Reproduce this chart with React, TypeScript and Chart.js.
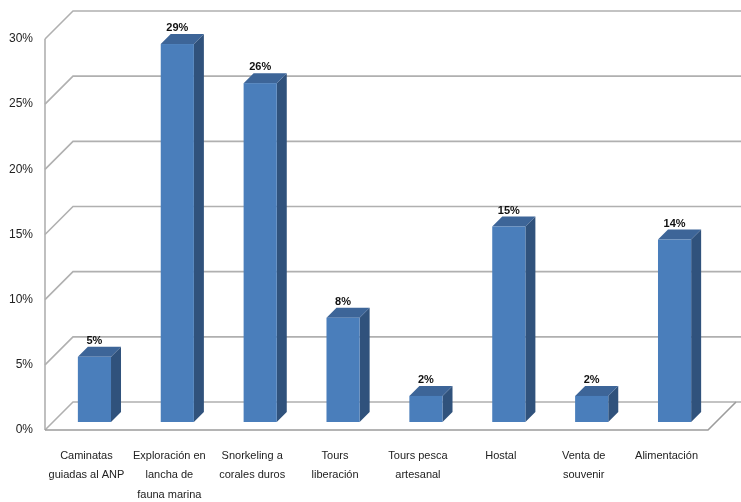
import React, { useEffect, useRef } from "react";
import { Chart, registerables } from "chart.js";

Chart.register(...registerables);

const categories: string[][] = [
  ["Caminatas", "guiadas al ANP"],
  ["Exploración en", "lancha de", "fauna marina"],
  ["Snorkeling a", "corales duros"],
  ["Tours", "liberación"],
  ["Tours pesca", "artesanal"],
  ["Hostal"],
  ["Venta de", "souvenir"],
  ["Alimentación"],
];
const values: number[] = [5, 29, 26, 8, 2, 15, 2, 14];
const yMin = 0;
const yMax = 30;
const yStep = 5;

const FONT = "'Liberation Sans Narrow', 'Arial Narrow', 'Liberation Sans', sans-serif";

// 3D geometry
const WALL_DX = 28;
const WALL_DY = 28;
const BAR_SHIFT = 8;
const BAR_DEPTH = 10;

const threeD = {
  id: "threeD",
  beforeDatasetsDraw(chart: any) {
    const ctx = chart.ctx;
    const y = chart.scales.y;
    const area = chart.chartArea;
    const W = chart.width;
    ctx.save();
    ctx.strokeStyle = "#b0b0b0";
    ctx.lineWidth = 1.6;
    for (let v = yMin; v <= yMax; v += yStep) {
      const py = y.getPixelForValue(v);
      ctx.beginPath();
      ctx.moveTo(area.left, py);
      ctx.lineTo(area.left + WALL_DX, py - WALL_DY);
      ctx.lineTo(W, py - WALL_DY);
      ctx.stroke();
    }
    const p0 = y.getPixelForValue(yMin);
    const pTop = y.getPixelForValue(yMax);
    ctx.beginPath();
    ctx.moveTo(area.left, pTop);
    ctx.lineTo(area.left, p0);
    ctx.stroke();
    ctx.strokeStyle = "#9c9c9c";
    ctx.beginPath();
    ctx.moveTo(area.left, p0);
    ctx.lineTo(area.right, p0);
    ctx.lineTo(area.right + WALL_DX, p0 - WALL_DY);
    ctx.stroke();
    ctx.restore();
  },
  afterDatasetsDraw(chart: any) {
    const ctx = chart.ctx;
    const meta = chart.getDatasetMeta(0);
    ctx.save();
    meta.data.forEach((el: any, i: number) => {
      const w = el.width;
      const l = el.x - w / 2 + BAR_SHIFT;
      const r = el.x + w / 2 + BAR_SHIFT;
      const t = el.y - BAR_SHIFT;
      const b = el.base - BAR_SHIFT;
      const d = BAR_DEPTH;
      // side
      ctx.fillStyle = "#30527c";
      ctx.beginPath();
      ctx.moveTo(r, t);
      ctx.lineTo(r + d, t - d);
      ctx.lineTo(r + d, b - d);
      ctx.lineTo(r, b);
      ctx.closePath();
      ctx.fill();
      // top
      ctx.fillStyle = "#3d6598";
      ctx.beginPath();
      ctx.moveTo(l, t);
      ctx.lineTo(l + d, t - d);
      ctx.lineTo(r + d, t - d);
      ctx.lineTo(r, t);
      ctx.closePath();
      ctx.fill();
      // front
      ctx.fillStyle = "#4a7ebb";
      ctx.fillRect(l, t, r - l, b - t);
      // value label
      ctx.fillStyle = "#111";
      ctx.font = "bold 11px " + FONT;
      ctx.textAlign = "center";
      ctx.textBaseline = "middle";
      ctx.fillText(values[i] + "%", el.x + BAR_SHIFT, t - 16);
    });
    ctx.restore();
  },
};

export default function App() {
  const ref = useRef<HTMLCanvasElement>(null);
  useEffect(() => {
    document.body.style.margin = "0";
    const chart = new Chart(ref.current!, {
      type: "bar",
      data: {
        labels: categories,
        datasets: [
          {
            data: values,
            backgroundColor: "rgba(0,0,0,0)",
            borderWidth: 0,
            barPercentage: 0.4,
            categoryPercentage: 1,
          },
        ],
      },
      options: {
        responsive: false,
        animation: false,
        layout: { padding: { top: 39, right: 33, left: 0, bottom: 0 } },
        plugins: { legend: { display: false }, tooltip: { enabled: false } },
        scales: {
          x: {
            grid: { display: false, drawTicks: false },
            border: { display: false },
            ticks: {
              padding: 16,
              autoSkip: false,
              maxRotation: 0,
              color: "#222",
              font: { family: FONT, size: 11, lineHeight: "19.5px" },
            },
            afterFit: (s: any) => {
              s.height = 72;
            },
          },
          y: {
            min: yMin,
            max: yMax,
            grid: { display: false, drawTicks: false },
            border: { display: false },
            ticks: {
              stepSize: yStep,
              padding: 12,
              color: "#222",
              font: { family: FONT, size: 12 },
              callback: (v: any) => v + "%",
            },
            afterFit: (s: any) => {
              s.width = 45;
            },
          },
        },
      },
      plugins: [threeD],
    });
    return () => chart.destroy();
  }, []);
  return (
    <div style={{ width: 741, height: 502, background: "#fff" }}>
      <canvas ref={ref} width={741} height={502} />
    </div>
  );
}
